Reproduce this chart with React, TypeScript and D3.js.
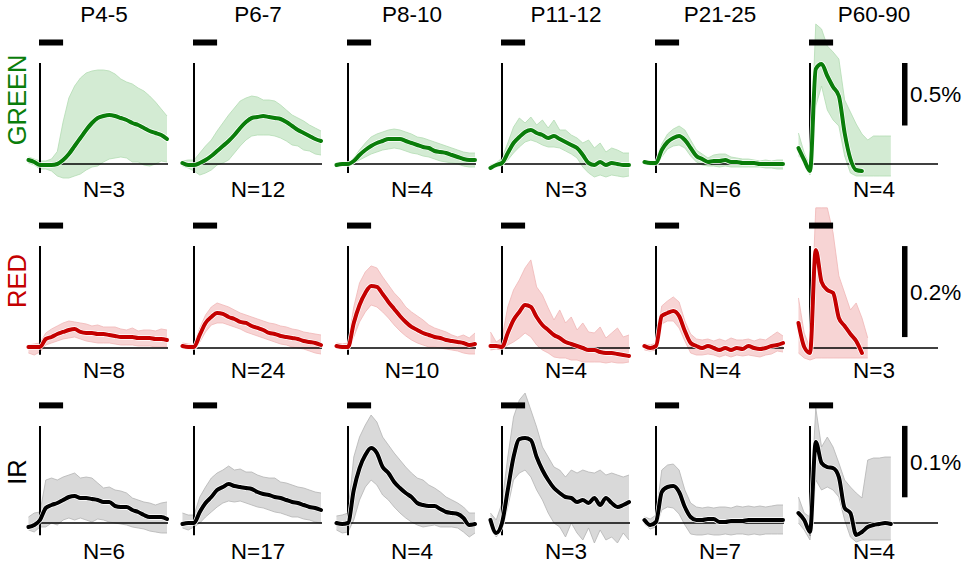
import React from "react";
import * as d3 from "d3";

// ---------- data ----------
const TIME = [-0.5, -0.25, 0, 0.25, 0.5, 0.75, 1, 1.25, 1.5, 1.75, 2, 2.25, 2.5, 2.75, 3, 3.25, 3.5, 3.75, 4, 4.25, 4.5, 4.75, 5, 5.25, 5.5];
const STIM = [0, 1];
const AGES = ["P4-5", "P6-7", "P8-10", "P11-12", "P21-25", "P60-90"];
const CHANNELS = ["GREEN", "RED", "IR"];
const N_COUNTS = [
  [3, 12, 4, 3, 6, 4],
  [8, 24, 10, 4, 4, 3],
  [6, 17, 4, 3, 7, 4],
];
const SCALE_BARS = [0.5, 0.2, 0.1];
const SCALE_LABELS = ["0.5%", "0.2%", "0.1%"];

const GREEN_MEAN = [
  [0.032, 0.016, -0.008, -0.008, -0.008, 0, 0.032, 0.08, 0.144, 0.208, 0.272, 0.328, 0.368, 0.384, 0.392, 0.384, 0.368, 0.352, 0.328, 0.312, 0.288, 0.264, 0.248, 0.232, 0.2],
  [0.008, -0.008, -0.008, 0.008, 0.032, 0.064, 0.104, 0.144, 0.184, 0.232, 0.288, 0.336, 0.368, 0.376, 0.384, 0.376, 0.368, 0.36, 0.336, 0.304, 0.272, 0.248, 0.224, 0.2, 0.184],
  [-0.008, 0, 0, 0.024, 0.072, 0.112, 0.144, 0.168, 0.184, 0.2, 0.2, 0.2, 0.184, 0.168, 0.152, 0.136, 0.128, 0.104, 0.096, 0.088, 0.072, 0.056, 0.04, 0.032, 0.032],
  [-0.032, -0.008, 0.008, 0.088, 0.168, 0.216, 0.256, 0.272, 0.248, 0.232, 0.208, 0.224, 0.2, 0.176, 0.152, 0.128, 0.072, 0.008, -0.008, 0.016, -0.008, 0.008, 0, -0.008, -0.008],
  [0.016, 0.008, 0.008, 0.112, 0.176, 0.208, 0.224, 0.192, 0.128, 0.064, 0.04, 0.016, 0.024, 0.024, 0.032, 0.016, 0.016, 0.008, 0.008, 0.008, 0, 0, 0, 0, 0],
  [0.128, 0.032, -0.056, 0.76, 0.8, 0.704, 0.616, 0.544, 0.248, 0.04, -0.048, -0.056],
];
const GREEN_UPPER = [
  [0.056, 0.04, 0.024, 0.024, 0.04, 0.1, 0.336, 0.528, 0.624, 0.688, 0.728, 0.744, 0.752, 0.752, 0.744, 0.72, 0.68, 0.656, 0.64, 0.608, 0.584, 0.544, 0.496, 0.44, 0.384],
  [0.024, 0.032, 0.032, 0.088, 0.144, 0.192, 0.264, 0.328, 0.392, 0.448, 0.504, 0.528, 0.544, 0.536, 0.512, 0.512, 0.504, 0.472, 0.432, 0.392, 0.368, 0.344, 0.312, 0.288, 0.264],
  [0.008, 0.008, 0.008, 0.048, 0.112, 0.168, 0.216, 0.24, 0.256, 0.272, 0.28, 0.272, 0.256, 0.24, 0.216, 0.208, 0.192, 0.176, 0.16, 0.144, 0.128, 0.112, 0.096, 0.088, 0.088],
  [-0.008, 0.008, 0.048, 0.168, 0.296, 0.368, 0.328, 0.376, 0.312, 0.352, 0.288, 0.352, 0.272, 0.272, 0.232, 0.208, 0.168, 0.192, 0.128, 0.168, 0.096, 0.128, 0.112, 0.088, 0.088],
  [0.024, 0.016, 0.024, 0.16, 0.24, 0.28, 0.304, 0.272, 0.192, 0.112, 0.08, 0.048, 0.072, 0.08, 0.08, 0.056, 0.048, 0.04, 0.04, 0.032, 0.024, 0.032, 0.024, 0.032, 0.032],
  [0.248, 0.088, -0.016, 1.12, 1.08, 0.944, 0.896, 0.84, 0.512, 0.416, 0.32, 0.24, 0.192, 0.224, 0.224, 0.224, 0.224],
];
const GREEN_LOWER = [
  [0.008, -0.008, -0.04, -0.04, -0.056, -0.096, -0.112, -0.112, -0.096, -0.08, -0.048, -0.024, -0.016, 0.016, 0.04, 0.048, 0.056, 0.048, 0.016, 0.016, -0.008, -0.016, 0, 0.024, 0.016],
  [-0.016, -0.032, -0.056, -0.088, -0.072, -0.048, -0.008, 0.008, 0.032, 0.088, 0.144, 0.192, 0.224, 0.232, 0.232, 0.232, 0.224, 0.208, 0.184, 0.152, 0.144, 0.112, 0.104, 0.08, 0.072],
  [-0.024, -0.008, -0.008, 0.008, 0.032, 0.056, 0.08, 0.096, 0.112, 0.12, 0.128, 0.12, 0.104, 0.088, 0.08, 0.064, 0.056, 0.04, 0.024, 0.016, 0.008, 0, -0.016, -0.024, -0.024],
  [-0.048, -0.024, -0.008, 0.032, 0.088, 0.136, 0.176, 0.192, 0.176, 0.152, 0.136, 0.136, 0.128, 0.104, 0.08, 0.048, -0.024, -0.072, -0.104, -0.088, -0.104, -0.088, -0.096, -0.104, -0.096],
  [0.008, -0.008, -0.016, 0.056, 0.12, 0.144, 0.152, 0.128, 0.064, 0.016, -0.008, -0.016, -0.016, -0.024, -0.016, -0.024, -0.024, -0.024, -0.024, -0.024, -0.024, -0.032, -0.032, -0.04, -0.04],
  [0.064, 0.032, -0.088, 0.464, 0.624, 0.432, 0.352, 0.304, 0.064, -0.072, -0.096, -0.096, -0.096, -0.096, -0.096, -0.096, -0.096],
];

const RED_MEAN = [
  [0.0022, 0.0022, 0.0022, 0.0198, 0.0242, 0.0308, 0.0352, 0.0396, 0.0418, 0.0352, 0.033, 0.033, 0.0308, 0.0308, 0.0286, 0.0264, 0.0242, 0.0242, 0.0242, 0.022, 0.022, 0.022, 0.0198, 0.0198, 0.0176],
  [0.0044, 0.0022, 0.0022, 0.0286, 0.055, 0.0682, 0.077, 0.0748, 0.0682, 0.0638, 0.0572, 0.055, 0.0484, 0.044, 0.0396, 0.033, 0.0308, 0.0264, 0.0242, 0.022, 0.0198, 0.0154, 0.0132, 0.011, 0.0066],
  [0.0044, 0.0022, 0.0022, 0.055, 0.0946, 0.121, 0.1364, 0.1342, 0.1188, 0.1012, 0.0858, 0.0704, 0.0572, 0.0462, 0.0396, 0.033, 0.0286, 0.0242, 0.022, 0.0176, 0.0154, 0.0132, 0.011, 0.0066, 0.0088],
  [0.0044, 0.0044, 0.0022, 0.033, 0.0616, 0.0792, 0.0946, 0.0902, 0.0682, 0.0506, 0.0396, 0.0286, 0.022, 0.0132, 0.0088, 0.0044, 0, -0.0044, -0.0044, -0.0088, -0.011, -0.011, -0.0132, -0.0154, -0.0176],
  [0.0044, 0, 0.0044, 0.0704, 0.077, 0.0814, 0.0704, 0.0374, 0.011, 0.0044, 0, 0.0044, 0, -0.0044, 0, -0.0044, 0, -0.0022, 0.0044, 0, -0.0022, 0, 0.0044, 0.0066, 0.011],
  [0.055, 0.0022, -0.011, 0.2156, 0.1452, 0.1276, 0.121, 0.066, 0.0484, 0.0308, 0.0154, -0.011],
];
const RED_UPPER = [
  [0.0066, 0.0088, 0.011, 0.033, 0.0418, 0.0484, 0.055, 0.0594, 0.0572, 0.055, 0.0528, 0.0484, 0.0506, 0.0462, 0.0462, 0.0462, 0.0418, 0.0396, 0.044, 0.0374, 0.0396, 0.0396, 0.0374, 0.0418, 0.0396],
  [0.011, 0.0088, 0.0066, 0.044, 0.0726, 0.0902, 0.099, 0.0946, 0.0902, 0.0836, 0.077, 0.0726, 0.0682, 0.0638, 0.0594, 0.055, 0.0528, 0.0484, 0.0462, 0.0418, 0.0396, 0.0352, 0.033, 0.0308, 0.0286],
  [0.011, 0.0088, 0.011, 0.0902, 0.143, 0.1672, 0.1804, 0.176, 0.1562, 0.1386, 0.121, 0.1078, 0.0902, 0.0792, 0.0704, 0.0616, 0.0506, 0.044, 0.0396, 0.0352, 0.0286, 0.0242, 0.0286, 0.022, 0.033],
  [0.0352, 0.0132, 0.022, 0.0902, 0.1276, 0.1496, 0.176, 0.1936, 0.1342, 0.1166, 0.088, 0.0616, 0.0836, 0.055, 0.0682, 0.0396, 0.055, 0.0352, 0.033, 0.0462, 0.022, 0.033, 0.044, 0.0242, 0.0286],
  [0.0088, 0.0066, 0.011, 0.0924, 0.1034, 0.1122, 0.1012, 0.0594, 0.0308, 0.0198, 0.0176, 0.0198, 0.0154, 0.0198, 0.0154, 0.022, 0.0176, 0.0176, 0.0198, 0.0154, 0.0198, 0.0176, 0.0264, 0.0352, 0.0264],
  [0.11, 0.033, 0, 0.308, 0.308, 0.308, 0.253, 0.1584, 0.121, 0.0836, 0.099, 0.066, 0.022],
];
const RED_LOWER = [
  [-0.011, -0.0154, -0.0088, 0.0066, 0.011, 0.0154, 0.0198, 0.022, 0.0242, 0.0198, 0.0154, 0.0132, 0.011, 0.011, 0.011, 0.0088, 0.0066, 0.0066, 0.0066, 0.0044, 0.0044, 0.0044, 0.0022, 0.0022, 0.0022],
  [0, -0.0022, -0.0044, 0.0132, 0.0352, 0.0506, 0.055, 0.055, 0.0506, 0.0462, 0.0418, 0.0352, 0.0308, 0.0264, 0.022, 0.0176, 0.0132, 0.0088, 0.0066, 0.0022, 0, -0.0022, -0.0066, -0.011, -0.0132],
  [0, -0.0022, -0.0022, 0.0242, 0.0572, 0.0792, 0.0946, 0.0902, 0.0792, 0.066, 0.0506, 0.0374, 0.0264, 0.0176, 0.011, 0.0066, 0.0022, 0.0022, 0, -0.0022, -0.0044, -0.0066, -0.011, -0.0132, -0.0132],
  [-0.0044, -0.0022, -0.0044, 0.0066, 0.0132, 0.022, 0.033, 0.0242, 0.0066, -0.0044, -0.011, -0.0198, -0.022, -0.022, -0.0264, -0.0264, -0.0308, -0.0308, -0.0308, -0.0308, -0.033, -0.0308, -0.033, -0.033, -0.0308],
  [-0.0044, -0.0066, -0.0044, 0.0528, 0.0594, 0.0594, 0.044, 0.0154, -0.011, -0.0154, -0.0154, -0.0132, -0.0154, -0.0198, -0.0154, -0.0198, -0.0154, -0.0176, -0.0154, -0.0176, -0.0198, -0.0154, -0.0132, -0.0066, -0.0088],
  [-0.011, -0.022, -0.0264, -0.022, -0.022, -0.022, -0.022, -0.022, -0.022, -0.022, -0.022, -0.022, -0.022],
];

const IR_MEAN = [
  [-0.0056, -0.0028, 0.0042, 0.021, 0.0252, 0.028, 0.0322, 0.0364, 0.0378, 0.035, 0.035, 0.0336, 0.0322, 0.0294, 0.0294, 0.0238, 0.0224, 0.0224, 0.0182, 0.0154, 0.0112, 0.0084, 0.0084, 0.0084, 0.0056],
  [-0.0014, 0, 0, 0.0154, 0.028, 0.0364, 0.0462, 0.0504, 0.0546, 0.0518, 0.0504, 0.049, 0.0476, 0.0434, 0.0406, 0.0392, 0.0364, 0.035, 0.0322, 0.0294, 0.028, 0.0252, 0.0224, 0.021, 0.0182],
  [0, -0.0014, 0, 0.0462, 0.077, 0.0952, 0.105, 0.098, 0.0784, 0.07, 0.0574, 0.049, 0.042, 0.0364, 0.028, 0.0252, 0.0238, 0.0238, 0.0196, 0.0154, 0.014, 0.0126, 0.007, -0.0028, -0.0014],
  [0.0042, -0.014, 0, 0.0462, 0.0924, 0.1176, 0.119, 0.1162, 0.0924, 0.0742, 0.0602, 0.049, 0.042, 0.0364, 0.035, 0.0294, 0.0322, 0.028, 0.035, 0.0252, 0.035, 0.028, 0.0224, 0.0252, 0.0294],
  [0.0042, -0.0028, 0.0014, 0.0434, 0.0504, 0.0518, 0.0434, 0.0224, 0.0084, 0.0042, 0.0042, 0.0056, 0.0056, 0.0014, 0.0014, 0.0028, 0.0028, 0.0028, 0.0042, 0.0042, 0.0042, 0.0042, 0.0042, 0.0042, 0.0042],
  [0.014, 0.0042, -0.0126, 0.1134, 0.084, 0.0784, 0.077, 0.0644, 0.021, 0.014, -0.0168, -0.0126, -0.0056, -0.0028, -0.0014, 0, -0.0014],
];
const IR_UPPER = [
  [0.0084, 0.014, 0.0154, 0.0602, 0.063, 0.0602, 0.0644, 0.0672, 0.07, 0.063, 0.0644, 0.063, 0.056, 0.049, 0.0504, 0.0462, 0.0448, 0.042, 0.035, 0.0322, 0.0294, 0.028, 0.0252, 0.028, 0.0294],
  [0.014, 0.0112, 0.0112, 0.0364, 0.0504, 0.063, 0.07, 0.0742, 0.0798, 0.0742, 0.0756, 0.0714, 0.0714, 0.0672, 0.0644, 0.063, 0.063, 0.0574, 0.056, 0.0532, 0.0504, 0.049, 0.0462, 0.0434, 0.042],
  [0.0098, 0.0112, 0.014, 0.0924, 0.1204, 0.1372, 0.1512, 0.1414, 0.1204, 0.1092, 0.098, 0.0882, 0.0784, 0.07, 0.063, 0.0602, 0.0532, 0.049, 0.0434, 0.0364, 0.0322, 0.028, 0.0224, 0.014, 0.014],
  [0.014, 0.0042, 0.028, 0.0924, 0.1484, 0.1722, 0.182, 0.1582, 0.1344, 0.1064, 0.0924, 0.0784, 0.0742, 0.0644, 0.0742, 0.07, 0.0742, 0.0714, 0.07, 0.0742, 0.0672, 0.07, 0.0672, 0.0644, 0.0672],
  [0.0084, 0.0056, 0.0112, 0.0742, 0.0812, 0.0826, 0.0742, 0.0462, 0.028, 0.0224, 0.021, 0.0224, 0.021, 0.0224, 0.0224, 0.021, 0.0238, 0.0224, 0.0238, 0.0224, 0.0238, 0.0224, 0.0238, 0.0252, 0.0252],
  [0.0364, 0.014, 0.0084, 0.161, 0.1064, 0.1204, 0.1064, 0.084, 0.0602, 0.0504, 0.042, 0.035, 0.0882, 0.091, 0.091, 0.0924, 0.0924],
];
const IR_LOWER = [
  [-0.0098, -0.0126, -0.0056, -0.0056, 0, -0.0028, 0.0042, 0.007, 0.0042, 0.007, 0.0042, 0.0014, 0.0056, 0.0042, 0.0014, 0, -0.0014, -0.0028, -0.0056, -0.007, -0.0084, -0.0112, -0.0126, -0.014, -0.014],
  [-0.007, -0.0098, -0.0056, 0, 0.0084, 0.0154, 0.0224, 0.028, 0.0308, 0.0294, 0.0308, 0.028, 0.0252, 0.0224, 0.021, 0.0182, 0.0154, 0.014, 0.0112, 0.0084, 0.0084, 0.0056, 0.0042, 0.0014, 0],
  [-0.0098, -0.014, -0.0126, 0.0042, 0.0322, 0.0504, 0.0602, 0.0532, 0.0392, 0.0322, 0.0224, 0.014, 0.007, 0.0014, -0.0028, -0.0056, -0.0042, -0.0028, -0.0056, -0.0056, -0.0056, -0.007, -0.0126, -0.0196, -0.014],
  [-0.0056, -0.0196, -0.0098, 0.0224, 0.0602, 0.07, 0.0742, 0.0644, 0.0462, 0.0322, 0.014, 0, -0.0056, -0.0196, 0, -0.014, -0.0238, -0.007, -0.028, -0.0098, -0.0238, -0.0196, -0.028, -0.014, -0.0238],
  [-0.0014, -0.0084, -0.0056, 0.0182, 0.0224, 0.021, 0.0126, -0.0028, -0.0154, -0.0168, -0.0168, -0.0154, -0.0168, -0.0168, -0.0154, -0.0168, -0.0154, -0.0154, -0.0168, -0.0154, -0.0168, -0.0154, -0.0154, -0.0154, -0.0154],
  [0, -0.0098, -0.0238, 0.0602, 0.0462, 0.0504, 0.0462, 0.0364, 0.0042, -0.0196, -0.0266, -0.0238, -0.0238, -0.0238, -0.0238, -0.0238, -0.0238],
];

// ---------- layout ----------
const W = 964;
const H = 564;
const COL_X = [40, 194, 348, 502, 656, 810];
const AXIS_LEN = 128;
const T_MAX = 5.5;
const ROW_BASE = [164, 348, 523];
const ROW_PX_PER_PCT = [125, 455, 714];
const ROW_YMAX = [0.808, 0.224, 0.136];
const ROW_YMIN = [-0.072, -0.015, -0.017];
const ROW_LABEL_Y = [100, 281, 472];
const ROW_N_Y = [197, 378, 559];

const STYLES = [
  { text: "#0a7d0a", line: "#0a7d0a", band: "#d3ebd3", edge: "#b3dcb3" },
  { text: "#c40000", line: "#c40000", band: "#f7d4d4", edge: "#f0b6b6" },
  { text: "#000000", line: "#000000", band: "#d9d9d9", edge: "#b4b4b4" },
];

const MEANS = [GREEN_MEAN, RED_MEAN, IR_MEAN];
const UPPERS = [GREEN_UPPER, RED_UPPER, IR_UPPER];
const LOWERS = [GREEN_LOWER, RED_LOWER, IR_LOWER];

const FONT = "'Liberation Sans', Arial, Helvetica, sans-serif";
const FS = 22.5;

export default function App() {
  return (
    <svg
      width={W}
      height={H}
      viewBox={`0 0 ${W} ${H}`}
      style={{ position: "absolute", left: 0, top: 0, background: "#fff" }}
      fontFamily={FONT}
    >
      <rect x={0} y={0} width={W} height={H} fill="#fff" />
      {AGES.map((age, c) => (
        <text key={age} x={COL_X[c] + AXIS_LEN / 2} y={22} fontSize={FS} textAnchor="middle" fill="#000">
          {age}
        </text>
      ))}
      {CHANNELS.map((ch, r) => {
        const st = STYLES[r];
        const y = d3
          .scaleLinear()
          .domain([0, 1])
          .range([ROW_BASE[r], ROW_BASE[r] - ROW_PX_PER_PCT[r]]);
        const yTop = y(ROW_YMAX[r]);
        const yBot = y(ROW_YMIN[r]);
        const barBottom = y(ROW_YMAX[r] - SCALE_BARS[r]);
        return (
          <g key={ch}>
            <text
              transform={`translate(25.5,${ROW_LABEL_Y[r]}) rotate(-90)`}
              fontSize={25.5}
              textAnchor="middle"
              fill={st.text}
            >
              {ch}
            </text>
            {AGES.map((age, c) => {
              const x = d3.scaleLinear().domain([0, T_MAX]).range([COL_X[c], COL_X[c] + AXIS_LEN - 1]);
              const up = UPPERS[r][c];
              const lo = LOWERS[r][c];
              const mn = MEANS[r][c];
              const bandIdx = d3.range(Math.min(up.length, lo.length));
              const area = d3
                .area<number>()
                .x((i) => x(TIME[i]))
                .y0((i) => y(lo[i]))
                .y1((i) => y(up[i]));
              const edgeUp = d3.line<number>().x((i) => x(TIME[i])).y((i) => y(up[i]));
              const edgeLo = d3.line<number>().x((i) => x(TIME[i])).y((i) => y(lo[i]));
              const meanLine = d3
                .line<number>()
                .x((i) => x(TIME[i]))
                .y((i) => y(mn[i]))
                .curve(d3.curveMonotoneX);
              const meanIdx = d3.range(mn.length);
              const x0 = x(0);
              return (
                <g key={age}>
                  <path d={area(bandIdx) || ""} fill={st.band} stroke="none" />
                  <path d={edgeUp(bandIdx) || ""} fill="none" stroke={st.edge} strokeWidth={0.8} />
                  <path d={edgeLo(bandIdx) || ""} fill="none" stroke={st.edge} strokeWidth={0.8} />
                  {/* stimulus bar */}
                  <rect
                    x={x(STIM[0]) - 1}
                    y={yTop - 23.5}
                    width={x(STIM[1]) - x(STIM[0]) + 1}
                    height={6}
                    fill="#000"
                  />
                  {/* axes */}
                  <line x1={x0} x2={x0} y1={yTop} y2={yBot} stroke="#000" strokeWidth={2} />
                  <line x1={x0} x2={x0 + AXIS_LEN} y1={y(0)} y2={y(0)} stroke="#000" strokeWidth={1.7} />
                  {/* mean trace */}
                  <path d={meanLine(meanIdx) || ""} fill="none" stroke="#fff" strokeWidth={5.4} strokeLinejoin="round" strokeLinecap="round" />
                  <path d={meanLine(meanIdx) || ""} fill="none" stroke={st.line} strokeWidth={4} strokeLinejoin="round" strokeLinecap="round" />
                  <text x={x0 + AXIS_LEN / 2} y={ROW_N_Y[r]} fontSize={FS} textAnchor="middle" fill="#000">
                    {`N=${N_COUNTS[r][c]}`}
                  </text>
                </g>
              );
            })}
            {/* scale bar */}
            <rect x={902} y={yTop} width={5.5} height={barBottom - yTop} fill="#000" />
            <text x={910} y={(yTop + barBottom) / 2 + 8} fontSize={FS} fill="#000">
              {SCALE_LABELS[r]}
            </text>
          </g>
        );
      })}
    </svg>
  );
}
